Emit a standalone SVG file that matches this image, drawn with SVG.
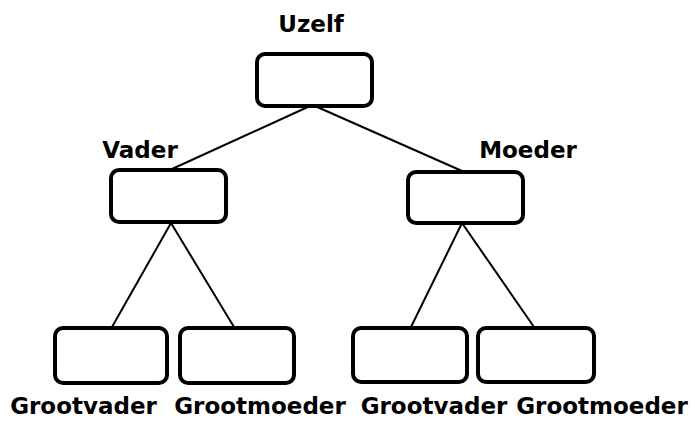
<svg xmlns="http://www.w3.org/2000/svg" width="695" height="421" viewBox="0 0 695 421">
<style>
.box{fill:#fff;stroke:#000;stroke-width:4;}
.lbl{font-family:"DejaVu Sans",Verdana,sans-serif;font-weight:bold;font-size:23px;fill:#000;text-anchor:middle;}
.con line{stroke:#000;stroke-width:2;}
</style>
<rect width="695" height="421" fill="#fff"/>
<g id="connectors" class="con">
<line x1="310" y1="106" x2="172" y2="169"/>
<line x1="315" y1="106" x2="462" y2="171"/>
<line x1="171" y1="223" x2="112" y2="327"/>
<line x1="171" y1="223" x2="234" y2="327"/>
<line x1="462" y1="223" x2="411" y2="327"/>
<line x1="462" y1="223" x2="534" y2="327"/>
</g>
<g id="uzelf">
<rect class="box" x="257" y="54" width="115" height="52" rx="8"/>
<text class="lbl" x="311" y="31.5">Uzelf</text>
</g>
<g id="vader">
<rect class="box" x="111" y="170" width="115" height="52" rx="8"/>
<text class="lbl" x="140" y="158">Vader</text>
</g>
<g id="moeder">
<rect class="box" x="408" y="172" width="115" height="51" rx="8"/>
<text class="lbl" x="528" y="158">Moeder</text>
</g>
<g id="grootvader1">
<rect class="box" x="55" y="328" width="112" height="55" rx="8"/>
<text class="lbl" x="83.5" y="414">Grootvader</text>
</g>
<g id="grootmoeder1">
<rect class="box" x="180" y="328" width="114" height="55" rx="8"/>
<text class="lbl" x="260" y="414">Grootmoeder</text>
</g>
<g id="grootvader2">
<rect class="box" x="353" y="328" width="114" height="54" rx="8"/>
<text class="lbl" x="434" y="414">Grootvader</text>
</g>
<g id="grootmoeder2">
<rect class="box" x="478" y="328" width="116" height="54" rx="8"/>
<text class="lbl" x="602" y="414">Grootmoeder</text>
</g>
</svg>
